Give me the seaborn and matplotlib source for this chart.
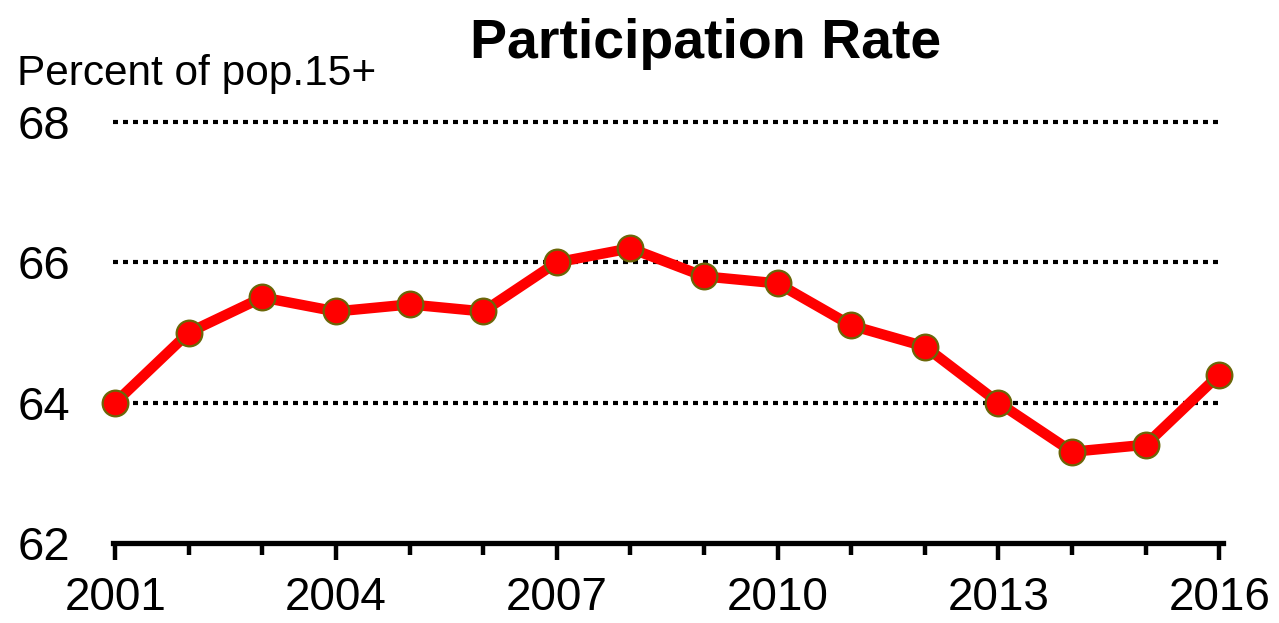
import matplotlib
matplotlib.use("Agg")
import matplotlib.pyplot as plt
import seaborn as sns
import pandas as pd

years = [2001, 2002, 2003, 2004, 2005, 2006, 2007, 2008,
         2009, 2010, 2011, 2012, 2013, 2014, 2015, 2016]
rate = [64.0, 65.0, 65.5, 65.3, 65.4, 65.3, 66.0, 66.2,
        65.8, 65.7, 65.1, 64.8, 64.0, 63.3, 63.4, 64.4]
y_ticks = [62, 64, 66, 68]
x_major = [2001, 2004, 2007, 2010, 2013, 2016]
title = "Participation Rate"
unit_label = "Percent of pop.15+"

sns.set_style("white")
plt.rcParams['font.family'] = ['Liberation Sans', 'DejaVu Sans']
plt.rcParams['text.color'] = 'black'
plt.rcParams['xtick.color'] = 'black'
plt.rcParams['ytick.color'] = 'black'

df = pd.DataFrame({"year": years, "rate": rate})

fig = plt.figure(figsize=(12.79, 6.23), dpi=100)
ax = fig.add_axes([113 / 1279, 1 - 543 / 623, (1223 - 113) / 1279, (543 - 122) / 623])

# grid lines (dotted)
for yv in y_ticks[1:]:
    ax.axhline(yv, color="black", lw=3.0, linestyle=(0, (1.2, 1.2)),
               zorder=1, clip_on=False)

sns.lineplot(data=df, x="year", y="rate", ax=ax, color="#ff0000", lw=7.5,
             marker="o", markersize=18.5, markerfacecolor="#ff0000",
             markeredgecolor="#6b6608", markeredgewidth=1.6, zorder=3,
             clip_on=False)

ax.set_xlim(2000.97, 2016.05)
ax.set_ylim(62, 68)
ax.set_xlabel("")
ax.set_ylabel("")

ax.set_xticks(x_major)
ax.set_xticklabels([str(v) for v in x_major])
ax.set_xticks([y for y in years if y not in x_major], minor=True)
ax.set_yticks(y_ticks)
ax.set_yticklabels([str(v) for v in y_ticks])

for side in ["left", "right", "top"]:
    ax.spines[side].set_visible(False)
ax.spines["bottom"].set_color("black")
ax.spines["bottom"].set_linewidth(3.8)

ax.tick_params(axis="x", which="major", length=12, width=3.2, color="black",
               direction="out", labelsize=33, pad=12, bottom=True,
               labelcolor="black")
ax.tick_params(axis="x", which="minor", length=8.5, width=3.2, color="black",
               direction="out", bottom=True)
ax.tick_params(axis="y", length=0, labelsize=34, pad=31, labelcolor="black")

fig.text(706 / 1279, 1 - 58 / 623, title, ha="center", va="baseline",
         fontsize=40, fontweight="bold", color="black")
fig.text(17 / 1279, 1 - 85 / 623, unit_label, ha="left", va="baseline",
         fontsize=30.5, color="black")

fig.savefig("out.png", dpi=100)
